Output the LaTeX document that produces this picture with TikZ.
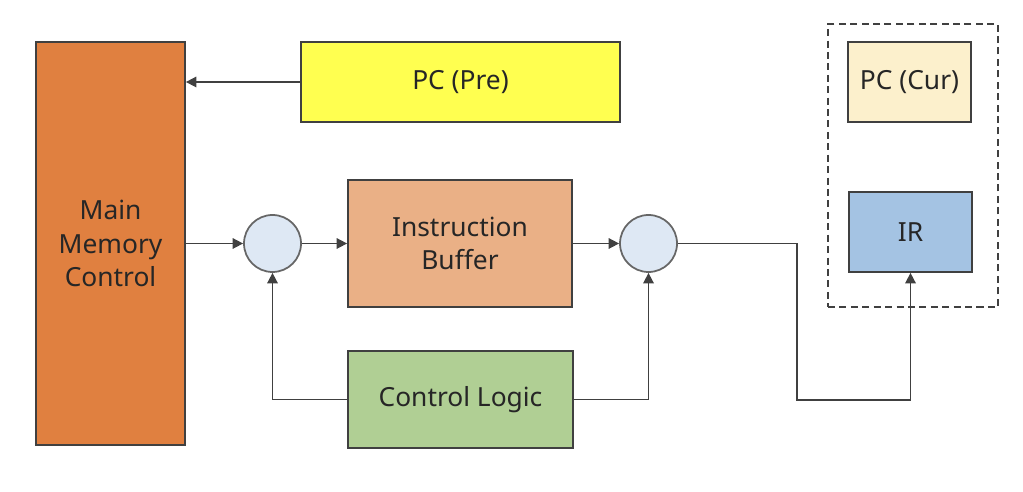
\documentclass[tikz,border=0pt]{standalone}
\usepackage{fontspec}
\setmainfont{Noto Sans}
\usetikzlibrary{arrows.meta}
\definecolor{memc}{RGB}{224,128,64}
\definecolor{prec}{RGB}{255,255,80}
\definecolor{ibc}{RGB}{234,176,134}
\definecolor{clc}{RGB}{176,207,148}
\definecolor{curc}{RGB}{252,240,204}
\definecolor{irc}{RGB}{164,195,227}
\definecolor{circc}{RGB}{222,232,244}
\definecolor{linec}{RGB}{64,64,64}
\tikzset{
  blk/.style={draw=linec, line width=1pt, inner sep=0pt, align=center, font=\fontsize{15}{19}\selectfont, text=black!85},
  junc/.style={circle, draw=linec!80, line width=1pt, fill=circc, minimum size=57*0.02cm, inner sep=0pt},
  conn/.style={draw=linec, line width=0.9pt},
  arr/.style={conn, -{Triangle[length=6pt,width=6pt]}},
}
\begin{document}
\begin{tikzpicture}[x=0.02cm, y=-0.02cm]
\useasboundingbox (0,0) rectangle (1023,492);
\node[blk, fill=memc, minimum width=149*0.02cm, minimum height=403*0.02cm] (mem) at (110.5,243.5) {Main\\Memory\\Control};
\node[blk, fill=prec, minimum width=319*0.02cm, minimum height=80*0.02cm] (pre) at (460.5,82) {PC (Pre)};
\node[blk, fill=ibc, minimum width=224*0.02cm, minimum height=127*0.02cm] (ib) at (460,243.5) {Instruction\\Buffer};
\node[blk, fill=clc, minimum width=225*0.02cm, minimum height=97*0.02cm] (cl) at (460.5,399.5) {Control Logic};
\node[blk, fill=curc, minimum width=123*0.02cm, minimum height=80*0.02cm] (cur) at (909.5,82) {PC (Cur)};
\node[blk, fill=irc, minimum width=123*0.02cm, minimum height=80*0.02cm] (ir) at (910.5,232) {IR};
\node[junc] (j1) at (272.5,243.5) {};
\node[junc] (j2) at (648.5,243.5) {};
\node[draw=linec, line width=0.9pt, dashed, dash pattern=on 4pt off 2.5pt, minimum width=170*0.02cm, minimum height=283*0.02cm, inner sep=0pt] (grp) at (913,165.5) {};
\coordinate (memin) at (mem.east |- pre.west);
\draw[arr] (pre.west) -- (memin);
\draw[arr] (mem.east |- j1.west) -- (j1.west);
\draw[arr] (j1.east) -- (ib.west |- j1.east);
\draw[arr] (ib.east |- j2.west) -- (j2.west);
\coordinate (c1) at (797,243.5);
\coordinate (c2) at (797,400);
\coordinate (c3) at (910.5,400);
\draw[arr] (j2.east) -- (c1) -- (c2) -- (c3) -- (ir.south);
\draw[arr] (cl.west) -| (j1.south);
\draw[arr] (cl.east) -| (j2.south);
\end{tikzpicture}
\end{document}
